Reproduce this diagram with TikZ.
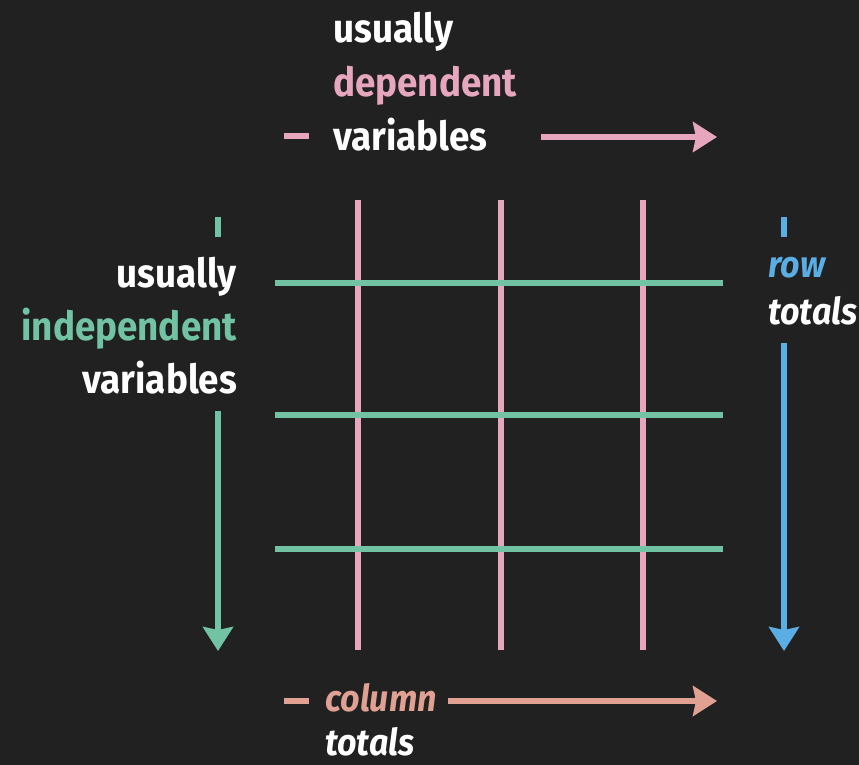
\documentclass[tikz,border=0pt]{standalone}
\usepackage{fontspec}
\usetikzlibrary{arrows.meta}
\newfontfamily\labfont{Fira Sans Bold}[FakeStretch=0.92]
\newfontfamily\labitfont{Fira Sans Bold Italic}[FakeStretch=0.92]
\definecolor{bgc}{HTML}{212121}
\definecolor{pinkc}{HTML}{E6A7BE}
\definecolor{greenc}{HTML}{72C3A3}
\definecolor{bluec}{HTML}{5BAEE3}
\definecolor{salmonc}{HTML}{E0A092}
\tikzset{
  grid pink/.style={draw=pinkc, line width=5.5pt},
  grid green/.style={draw=greenc, line width=5.5pt},
  dashmark/.style={line width=5.5pt},
  bigarrow/.style={line width=5.5pt, -{Stealth[length=24pt, width=30pt, inset=3pt]}},
  lab/.style={inner sep=0pt, font=\labfont\fontsize{40}{48}\selectfont, text=white},
  labit/.style={inner sep=0pt, font=\labitfont\fontsize{37}{44}\selectfont, text=white},
}
\begin{document}
\begin{tikzpicture}[x=1pt, y=-1pt]
\fill[bgc] (0,0) rectangle (859,765);
\useasboundingbox (0,0) rectangle (859,765);
% grid
\coordinate (v1t) at (358,200); \coordinate (v1b) at (358,650);
\coordinate (v2t) at (501,200); \coordinate (v2b) at (501,650);
\coordinate (v3t) at (643,200); \coordinate (v3b) at (643,650);
\coordinate (h1l) at (275,283); \coordinate (h1r) at (723,283);
\coordinate (h2l) at (275,415); \coordinate (h2r) at (723,415);
\coordinate (h3l) at (275,549); \coordinate (h3r) at (723,549);
\draw[grid pink] (v1t) -- (v1b);
\draw[grid pink] (v2t) -- (v2b);
\draw[grid pink] (v3t) -- (v3b);
\draw[grid green] (h1l) -- (h1r);
\draw[grid green] (h2l) -- (h2r);
\draw[grid green] (h3l) -- (h3r);
% top
\node[lab, anchor=base west] (tu) at (333,43) {usually};
\node[lab, anchor=base west, text=pinkc] (td) at (333,97) {dependent};
\node[lab, anchor=base west] (tv) at (333,150) {variables};
\coordinate (tds) at (284,136); \coordinate (tde) at (309,136);
\draw[pinkc, dashmark] (tds) -- (tde);
\coordinate (tas) at (541,137); \coordinate (tae) at (717,137);
\draw[pinkc, bigarrow] (tas) -- (tae);
% left
\node[lab, anchor=base east] (lu) at (237,287) {usually};
\node[lab, anchor=base east, text=greenc] (li) at (237,340) {independent};
\node[lab, anchor=base east] (lv) at (237,393) {variables};
\coordinate (lds) at (218,217); \coordinate (lde) at (218,237);
\draw[greenc, dashmark] (lds) -- (lde);
\coordinate (las) at (218,411); \coordinate (lae) at (218,651);
\draw[greenc, bigarrow] (las) -- (lae);
% right
\node[labit, anchor=base west, text=bluec] (rr) at (768,277) {row};
\node[labit, anchor=base west] (rt) at (768,324) {totals};
\coordinate (rds) at (784,217); \coordinate (rde) at (784,237);
\draw[bluec, dashmark] (rds) -- (rde);
\coordinate (ras) at (784,343); \coordinate (rae) at (784,651);
\draw[bluec, bigarrow] (ras) -- (rae);
% bottom
\node[labit, anchor=base west, text=salmonc] (bc) at (325,711) {column};
\node[labit, anchor=base west] (bt) at (325,755) {totals};
\coordinate (bds) at (284,701); \coordinate (bde) at (309,701);
\draw[salmonc, dashmark] (bds) -- (bde);
\coordinate (bas) at (448,701); \coordinate (bae) at (717,701);
\draw[salmonc, bigarrow] (bas) -- (bae);
\end{tikzpicture}
\end{document}
